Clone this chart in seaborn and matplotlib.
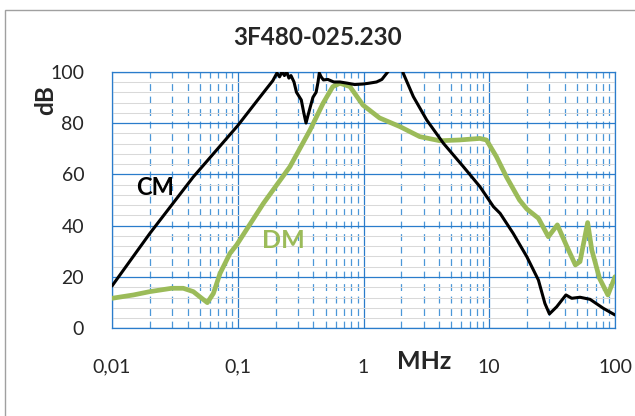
import matplotlib
matplotlib.use("Agg")
import matplotlib.pyplot as plt
from matplotlib.patches import Rectangle
import numpy as np
import pandas as pd
import seaborn as sns

# CM-Dämpfung (schwarz)
cm_freq = [0.01, 0.02, 0.0443, 0.1, 0.142, 0.17, 0.19, 0.205, 0.215, 0.225, 0.235,
           0.245, 0.255, 0.265, 0.28, 0.293, 0.32, 0.335, 0.349, 0.362, 0.376, 0.396,
           0.42, 0.435, 0.445, 0.46, 0.48, 0.52, 0.58, 0.65, 0.75, 0.85, 0.99, 1.1,
           1.27, 1.4, 1.53, 1.62, 1.8, 2.07, 2.49, 3.18, 4.32, 6.22, 8.43, 10.8, 12.2,
           15.5, 19.9, 24.6, 27.7, 30.1, 34.4, 40.7, 45.3, 52.7, 63.3, 80.7, 100]
cm_db = [16.5, 37, 59, 79, 88.6, 93.5, 96.5, 99.5, 98, 100, 98.5,
         100, 97.5, 98.5, 96, 92, 89, 84, 80, 83, 86, 90,
         92, 96, 99.5, 98, 96.8, 97, 96, 96, 95.5, 95, 95.2, 95.5,
         96, 97, 99.4, 101, 110, 99.4, 90.3, 81.2, 72.1, 63, 55.2, 47.4, 44.8,
         37, 27.9, 18.8, 9.7, 5.6, 8.4, 13, 11.7, 12.1, 11.3, 7.8, 5.2]

# DM-Dämpfung (grün)
dm_freq = [0.01, 0.0148, 0.02, 0.0298, 0.0369, 0.0443, 0.0517, 0.0573, 0.064, 0.0723,
           0.0867, 0.098, 0.16, 0.26, 0.376, 0.477, 0.57, 0.65, 0.78, 0.99, 1.34,
           1.95, 2.8, 4.05, 5.8, 8.4, 9.5, 11.4, 13.7, 17.4, 19.9, 24.6, 29.5, 34.8,
           41.5, 48.4, 52.7, 60.6, 65.4, 75.3, 87.8, 100]
dm_db = [11.7, 13, 14.3, 15.6, 15.6, 14.3, 11.7, 10, 13.6, 21.4,
         29.2, 32.5, 48.7, 63, 77.3, 87.7, 94.2, 95.5, 94.2, 87, 82,
         78.6, 74.7, 73.1, 73.4, 74, 73.4, 66.9, 59, 50, 46.5, 42.9, 35.7, 40.3,
         31.8, 24.7, 26, 41.2, 30.5, 19.5, 13, 20.1]

x_ticks = [0.01, 0.1, 1, 10, 100]
x_labels = ["0,01", "0,1", "1", "10", "100"]
y_ticks = [0, 20, 40, 60, 80, 100]

sns.set_style("white")
plt.rcParams["font.family"] = ["Lato", "DejaVu Sans"]

major_blue = "#2A7CCB"
minor_blue = "#4A97D8"
green = "#9BBB59"

fig = plt.figure(figsize=(6.35, 4.16), dpi=100)
ax = fig.add_axes([0.1764, 0.2108, 0.7921, 0.6168])

cm = pd.DataFrame({"f": cm_freq, "db": cm_db})
dm = pd.DataFrame({"f": dm_freq, "db": dm_db})
sns.lineplot(data=dm, x="f", y="db", sort=False, color=green, linewidth=3.4, ax=ax,
             zorder=3, solid_joinstyle="round", solid_capstyle="round")
sns.lineplot(data=cm, x="f", y="db", sort=False, color="black", linewidth=2.2, ax=ax,
             zorder=4, solid_joinstyle="round")

ax.set_xscale("log")
ax.set_xlim(0.01, 100)
ax.set_ylim(0, 100)

# Gitter
ax.set_axisbelow(True)
ax.set_xticks(x_ticks)
ax.set_xticklabels(x_labels)
ax.set_yticks(y_ticks)
ax.set_yticks(np.arange(4, 100, 4), minor=True)
ax.xaxis.set_minor_locator(matplotlib.ticker.LogLocator(base=10, subs=np.arange(2, 10)))
ax.xaxis.set_minor_formatter(matplotlib.ticker.NullFormatter())
ax.grid(which="minor", axis="y", color="#D9D9D9", linewidth=0.75)
ax.grid(which="minor", axis="x", color=minor_blue, linewidth=0.9,
        linestyle=(0, (5.5, 4.5)))
ax.grid(which="major", axis="both", color=major_blue, linewidth=0.9)
for s in ax.spines.values():
    s.set_color(major_blue)
    s.set_linewidth(0.9)

ax.tick_params(which="both", length=0)
ax.tick_params(axis="x", labelsize=14, pad=22, colors="#262626")
ax.tick_params(axis="y", labelsize=14, pad=20, colors="#262626")

ax.set_xlabel("")
ax.set_ylabel("")
fig.text(0.5, 0.911, "3F480-025.230", ha="center", va="center", fontsize=17.5,
         fontweight="bold")
fig.text(0.072, 0.76, "dB", ha="center", va="center", rotation=90, fontsize=17.5,
         fontweight="bold")
fig.text(0.668, 0.13, "MHz", ha="center", va="center", fontsize=18,
         fontweight="bold")
fig.text(0.244, 0.55, "CM", ha="center", va="center", fontsize=17,
         fontweight="bold", color="black")
fig.text(0.447, 0.423, "DM", ha="center", va="center", fontsize=18,
         fontweight="bold", color=green)

# Rahmen des Diagrammbereichs
fig.patches.append(Rectangle((4.5 / 635, -0.5), 2.0, 1.5 - 9.5 / 416,
                             transform=fig.transFigure, fill=False,
                             edgecolor="#A0A0A0", linewidth=1.0))

fig.savefig("out.png", dpi=100)
